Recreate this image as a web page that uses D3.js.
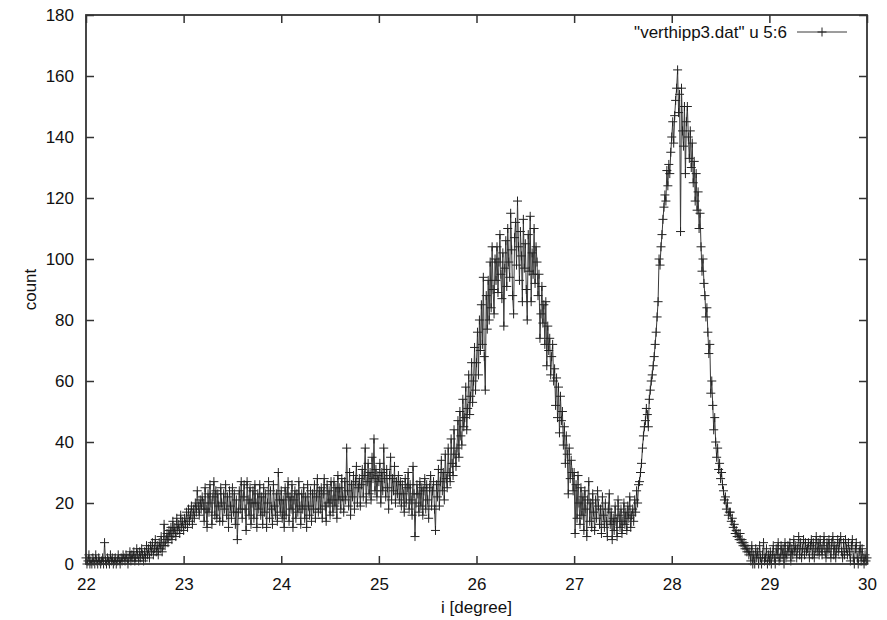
<!DOCTYPE html>
<html><head><meta charset="utf-8">
<script src="https://cdn.jsdelivr.net/npm/d3@7/dist/d3.min.js"></script>
<style>body{margin:0;background:#fff}svg{display:block}text{font-family:"Liberation Sans",Arial,sans-serif}</style>
</head><body><svg id="c" width="887" height="620"></svg>
<script>
const xStart = 22.0, xStep = 0.01;
const counts = [
2,0,1,3,0,1,0,2,1,0,3,1,0,2,1,0,1,2,0,7,
1,0,2,1,0,3,1,2,0,1,2,0,1,3,1,0,2,1,3,2,
1,3,2,0,2,4,1,3,2,4,1,2,5,3,1,4,2,5,3,1,
4,2,6,3,5,2,6,4,7,3,5,8,4,6,3,7,5,9,4,6,
13,6,8,10,7,11,9,12,8,14,10,12,9,15,11,13,10,16,12,14,
11,15,13,17,12,18,14,16,19,13,18,15,20,17,24,19,16,21,18,22,
20,14,25,18,12,23,17,26,20,13,22,27,16,24,15,23,19,14,25,20,
14,23,18,26,16,22,12,24,19,15,25,17,23,13,21,8,17,24,18,27,
15,22,26,18,11,27,21,16,25,13,20,24,15,26,20,12,23,18,26,16,
22,13,25,17,23,12,20,27,15,24,18,13,26,19,16,23,14,30,21,17,
24,15,21,12,25,16,23,27,14,22,18,26,12,21,24,15,23,17,27,19,
13,23,18,25,15,22,12,26,19,16,24,14,23,18,26,15,22,28,17,24,
18,25,15,23,28,19,14,26,20,24,16,27,21,17,27,19,25,15,29,21,
25,18,28,22,17,27,21,38,24,19,30,16,26,22,29,18,27,32,20,25,
28,19,26,31,22,29,38,20,27,33,23,30,21,35,28,41,24,31,22,29,
27,33,20,30,24,38,28,22,31,25,18,29,35,21,28,24,32,20,27,23,
29,21,27,19,26,23,17,28,20,25,30,18,26,21,16,32,23,9,20,26,
23,17,27,19,25,16,24,28,18,26,21,15,25,29,19,24,27,18,11,26,
22,31,19,27,34,24,30,21,36,28,25,38,30,27,41,33,29,44,36,32,
38,47,35,50,42,39,54,45,48,58,44,51,62,49,55,66,53,60,71,57,
66,76,62,80,70,85,72,94,68,57,88,77,93,80,99,84,104,90,82,100,
93,104,89,99,108,95,87,102,78,97,106,91,110,99,94,115,103,88,82,107,
112,98,119,104,93,109,101,86,113,97,105,90,80,108,96,114,86,102,95,110,
92,104,99,88,95,74,82,91,79,85,72,86,65,78,70,74,62,68,72,60,
64,52,61,48,58,43,55,47,50,39,45,33,42,36,23,38,28,34,30,24,
30,10,26,15,29,20,13,25,16,22,11,24,18,9,21,27,14,20,12,23,
17,11,21,15,24,19,13,18,10,22,16,12,20,14,9,18,23,13,17,8,
15,11,19,14,9,21,16,12,18,10,14,20,13,17,11,19,15,22,12,16,
18,14,21,17,24,20,26,27,30,33,38,42,45,47,51,49,45,54,57,60,
62,65,68,72,76,81,86,100,98,104,108,113,117,121,119,129,124,131,128,135,
140,145,138,147,152,156,162,148,154,109,156,142,137,150,128,145,150,140,133,142,
130,138,125,132,119,128,116,122,110,115,104,96,100,92,88,81,84,76,69,72,
56,60,52,44,48,40,35,38,31,33,28,30,26,24,21,22,18,20,16,17,
17,14,15,12,13,10,11,9,10,8,10,7,8,6,7,5,6,4,5,3,
4,1,6,0,3,0,5,2,4,0,6,2,0,3,7,1,2,5,0,3,
1,4,0,3,6,2,0,5,3,7,1,2,6,3,5,0,7,2,3,6,
4,7,1,5,3,8,4,6,2,5,9,3,7,2,5,8,3,7,4,5,
7,2,6,8,3,7,2,5,9,4,7,3,8,5,3,6,9,4,2,7,
4,8,5,2,7,9,3,6,2,5,8,4,7,9,4,2,7,3,8,5,
3,7,4,1,6,8,2,0,5,7,2,0,4,6,1,5,2,0,3,1,
2
];
const xTicks = [22,23,24,25,26,27,28,29,30];
const yTicks = [0,20,40,60,80,100,120,140,160,180];
const legendLabel = '"verthipp3.dat" u 5:6';
const xLabel = "i [degree]";
const yLabel = "count";

const data = counts.map((c,i)=>({x: xStart + i*xStep, y: c}));

const L=86, R=867, T=15, B=564;
const FS = 17;
const svg = d3.select("#c");
const x = d3.scaleLinear().domain([22,30]).range([L,R]);
const y = d3.scaleLinear().domain([0,180]).range([B,T]);
const tickLen = 8;
const axisColor = "#333";

const gb = svg.append("g").attr("transform",`translate(0,${B})`)
  .call(d3.axisBottom(x).tickValues(xTicks).tickSize(-tickLen).tickPadding(14).tickFormat(d3.format("d")));
const gt = svg.append("g").attr("transform",`translate(0,${T})`)
  .call(d3.axisTop(x).tickValues(xTicks).tickSize(-tickLen).tickFormat(""));
const gl = svg.append("g").attr("transform",`translate(${L},0)`)
  .call(d3.axisLeft(y).tickValues(yTicks).tickSize(-tickLen).tickPadding(12).tickFormat(d3.format("d")));
const gr = svg.append("g").attr("transform",`translate(${R},0)`)
  .call(d3.axisRight(y).tickValues(yTicks).tickSize(-tickLen).tickFormat(""));
[gb,gt,gl,gr].forEach(g=>{
  g.select(".domain").remove();
  g.selectAll(".tick line").attr("stroke",axisColor).attr("stroke-width",1.5);
  g.selectAll("text").attr("font-size",FS).attr("fill","#111").attr("font-family",'"Liberation Sans",Arial,sans-serif');
});
gb.selectAll("text").attr("dy","0.71em");

const line = d3.line().x(d=>x(d.x)).y(d=>y(d.y));
svg.append("path").datum(data).attr("d",line).attr("fill","none").attr("stroke","#3a3a3a").attr("stroke-width",1);
const arm = 4.5;
const plus = d3.path();
data.forEach(d=>{
  const px=x(d.x), py=y(d.y);
  plus.moveTo(px-arm,py); plus.lineTo(px+arm,py);
  plus.moveTo(px,py-arm); plus.lineTo(px,py+arm);
});
svg.append("path").attr("d",plus.toString()).attr("fill","none").attr("stroke","#222").attr("stroke-width",1);

svg.append("rect").attr("x",L).attr("y",T).attr("width",R-L).attr("height",B-T)
  .attr("fill","none").attr("stroke",axisColor).attr("stroke-width",1.8);

svg.append("text").attr("x",787).attr("y",38).attr("text-anchor","end").attr("font-size",FS).attr("fill","#111").text(legendLabel);
svg.append("line").attr("x1",797).attr("x2",847).attr("y1",32).attr("y2",32).attr("stroke","#3a3a3a").attr("stroke-width",1);
svg.append("path").attr("d",`M${822-arm},32H${822+arm}M822,${32-arm}V${32+arm}`).attr("stroke","#222").attr("stroke-width",1);

svg.append("text").attr("x",(L+R)/2).attr("y",613).attr("text-anchor","middle").attr("font-size",FS).attr("fill","#111").text(xLabel);
svg.append("text").attr("transform",`translate(36,${(T+B)/2}) rotate(-90)`).attr("text-anchor","middle").attr("font-size",FS).attr("fill","#111").text(yLabel);
</script></body></html>
